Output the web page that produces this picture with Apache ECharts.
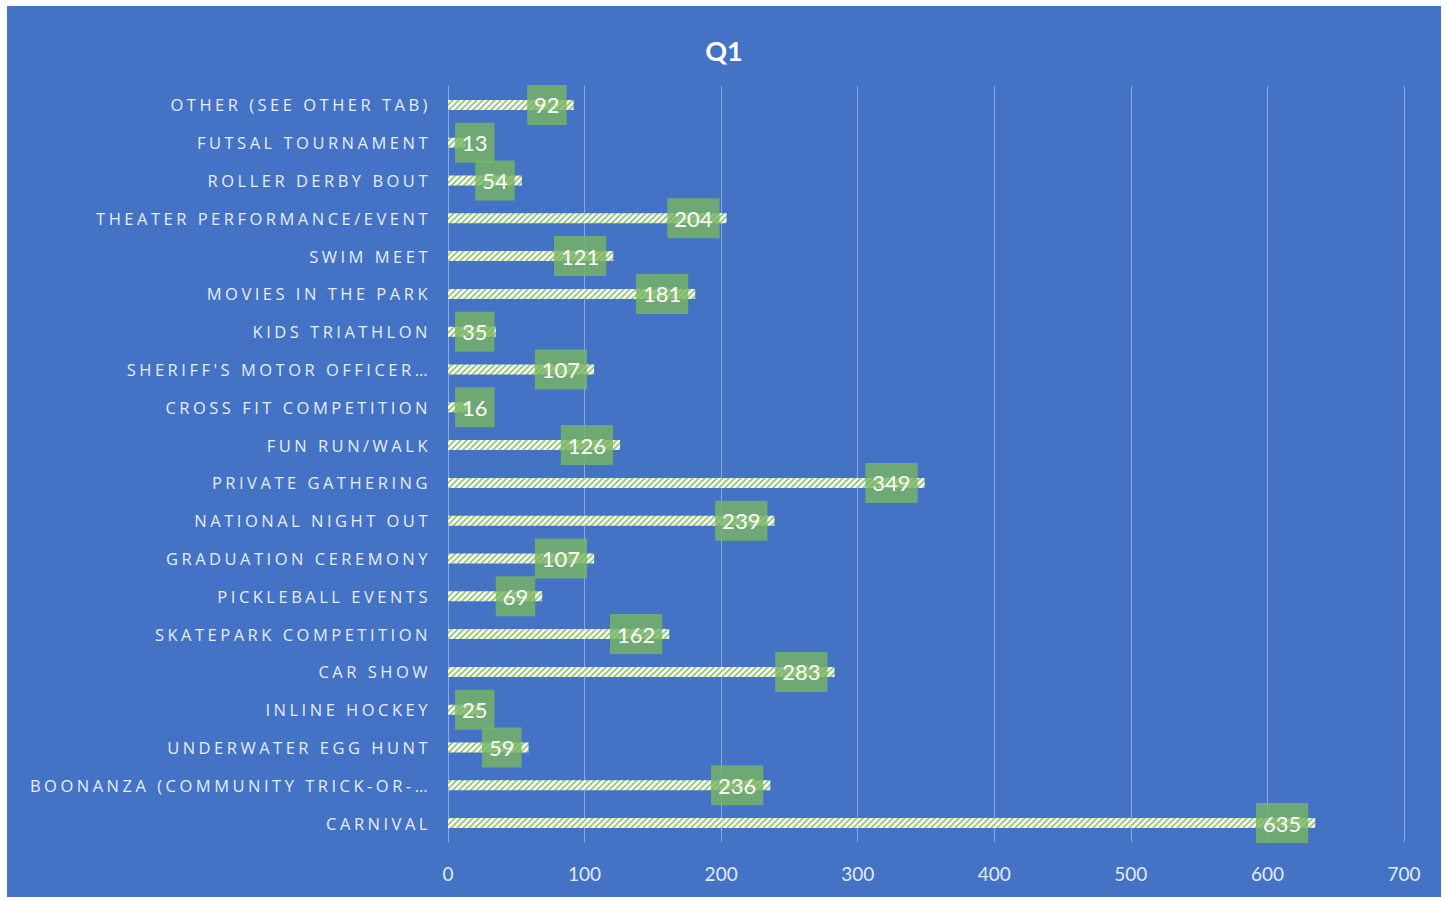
<!DOCTYPE html>
<html>
<head>
<meta charset="utf-8">
<script src="https://cdn.jsdelivr.net/npm/echarts@6/dist/echarts.min.js"></script>
<style>
  html, body { margin: 0; padding: 0; background: #fff; }
  #chart { position: absolute; left: 7px; top: 6px; width: 1434px; height: 891px; }
  /* Excel-style spaced category labels */
  #chart svg text[style*="Open Sans"] { letter-spacing: 3.5px; }
</style>
</head>
<body>
<div id="chart"></div>
<script>
;(function() {
  const categories = [
    'OTHER (SEE OTHER TAB)',
    'FUTSAL TOURNAMENT',
    'ROLLER DERBY BOUT',
    'THEATER PERFORMANCE/EVENT',
    'SWIM MEET',
    'MOVIES IN THE PARK',
    'KIDS TRIATHLON',
    "SHERIFF'S MOTOR OFFICER…",
    'CROSS FIT COMPETITION',
    'FUN RUN/WALK',
    'PRIVATE GATHERING',
    'NATIONAL NIGHT OUT',
    'GRADUATION CEREMONY',
    'PICKLEBALL EVENTS',
    'SKATEPARK COMPETITION',
    'CAR SHOW',
    'INLINE HOCKEY',
    'UNDERWATER EGG HUNT',
    'BOONANZA (COMMUNITY TRICK-OR-…',
    'CARNIVAL'
  ]
  const values = [92, 13, 54, 204, 121, 181, 35, 107, 16, 126, 349, 239, 107, 69, 162, 283, 25, 59, 236, 635]
  const xTicks = [0, 700, 100]

  // diagonal hatch fill used by Excel's "wide upward diagonal" pattern
  var hatch = "data:image/svg+xml;utf8," + encodeURIComponent(
    "<svg xmlns='http://www.w3.org/2000/svg' width='6' height='6'>" +
    "<rect width='6' height='6' fill='#ffffff'/>" +
    "<path d='M0,6 L6,0 M-1,1 L1,-1 M5,7 L7,5' stroke='#94c972' stroke-width='1.8'/>" +
    "</svg>")

  var chart = echarts.init(document.getElementById('chart'), null, {renderer: 'svg'})

  var option = {
    backgroundColor: '#4472c4',
    animation: false,
    title: {
      text: 'Q1',
      left: 'center',
      top: 26,
      textStyle: {
        color: '#ffffff',
        fontFamily: 'Lato',
        fontWeight: 'bold',
        fontSize: 27
      }
    },
    grid: {
      left: 441,
      right: 37,
      top: 80,
      bottom: 55,
      containLabel: false
    },
    xAxis: {
      type: 'value',
      min: xTicks[0],
      max: xTicks[1],
      interval: xTicks[2],
      axisLine: { show: false },
      axisTick: { show: false },
      axisLabel: {
        color: '#e3eaf7',
        fontFamily: 'Lato',
        fontSize: 19,
        margin: 22
      },
      splitLine: {
        lineStyle: { color: '#8ea8dd', width: 1 }
      }
    },
    yAxis: {
      type: 'category',
      inverse: true,
      data: categories,
      axisLine: { show: false },
      axisTick: { show: false },
      axisLabel: {
        color: '#e8edf8',
        fontFamily: 'Open Sans',
        fontSize: 16.5,
        margin: 17
      }
    },
    series: [
      {
        name: 'Q1',
        type: 'bar',
        barWidth: 10,
        itemStyle: {
          color: { image: hatch, repeat: 'repeat', imageWidth: 6, imageHeight: 6 }
        },
        label: {
          show: true,
          position: 'insideRight',
          distance: 7,
          color: '#ffffff',
          fontFamily: 'Lato',
          fontSize: 22,
          lineHeight: 24,
          padding: [8, 7],
          backgroundColor: 'rgba(120,180,100,0.82)'
        },
        data: values.map(v => v < 40
          ? { value: v, label: { position: 'insideLeft', distance: 7 } }
          : v)
      }
    ]
  }

  chart.setOption(option)
})()
</script>
</body>
</html>
